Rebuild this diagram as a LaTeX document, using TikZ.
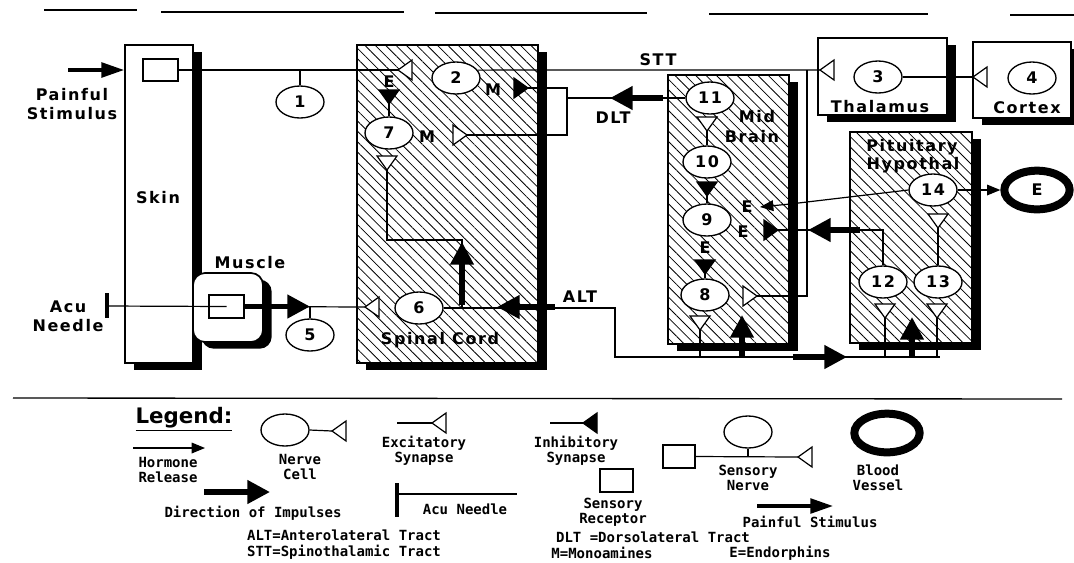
\documentclass[tikz,border=0pt]{standalone}
\usepackage{fontspec}
\setmainfont{DejaVu Sans}
\newfontfamily\labelfont{DejaVu Sans}[LetterSpace=10]
\newfontfamily\keyfont{DejaVu Sans Mono}
\usetikzlibrary{arrows.meta,shapes.geometric,shadows,patterns.meta,fit}

\tikzset{
  box/.style={draw, line width=1.3pt, fill=white, inner sep=0pt,
    general shadow={fill=black, shadow xshift=6.5pt, shadow yshift=-5pt}},
  hatched/.style={postaction={pattern={Lines[angle=-45,distance=5.5pt,line width=0.6pt]}}},
  receptor/.style={draw, line width=1pt, inner sep=0pt},
  cell/.style={draw, ellipse, fill=white, line width=1pt, inner sep=0pt,
    minimum width=36pt, minimum height=24pt, font=\labelfont\bfseries\fontsize{12}{12}\selectfont},
  vessel/.style={draw, ellipse, line width=6pt, inner sep=0pt,
    minimum width=49pt, minimum height=29pt, font=\labelfont\bfseries\fontsize{12}{12}\selectfont},
  lbl/.style={font=\labelfont\bfseries\fontsize{12}{14}\selectfont, align=center, inner sep=0pt},
  key/.style={font=\keyfont\bfseries\fontsize{10.5}{11.5}\selectfont, align=center, inner sep=0pt},
  nerve/.style={line width=0.9pt},
  impulse/.style={line width=4pt, -{Triangle[length=17pt,width=17pt]}},
  stimulus/.style={line width=2.6pt, -{Triangle[length=17pt,width=11pt]}},
  hormone/.style={line width=0.9pt, -{Triangle[length=10pt,width=8pt]}},
  needle/.style={line width=2.3pt},
  exc/.pic={\draw[line width=0.9pt, fill=white] (0,0) -- (14,-10) -- (14,10) -- cycle;},
  inh/.pic={\filldraw[line width=0.9pt] (0,0) -- (14,-10) -- (14,10) -- cycle;},
}

\begin{document}
\begin{tikzpicture}[x=0.75pt, y=-0.75pt]
\useasboundingbox (0,0) rectangle (1074,562);

% Top rule
\draw[line width=1.2pt] (44,10) -- (137,10);
\foreach \a/\b/\y in {161/404/12, 435/647/13, 709/928/14, 1010/1074/15} {
    \draw[line width=0.9pt] (\a,\y) -- (\b,\y);
}

% Boxes
\node[box, fit={(125,45) (193,363)}] (skin) {};
\node[box, rounded corners=9pt, fit={(193,273) (263,342)}] (muscle) {};
\node[box, hatched, fit={(357,45) (538,363)}] (cord) {};
\node[box, hatched, fit={(668,75) (789,344)}] (mid) {};
\node[box, fit={(818,38) (947,115)}] (thal) {};
\node[box, fit={(973,42) (1071,118)}] (ctx) {};
\node[box, hatched, fit={(850,132) (972,343)}] (pit) {};

\node[lbl] at (158,198) {Skin};
\node[lbl] at (250,263) {Muscle};
\node[lbl] at (440,340) {Spinal Cord};
\node[lbl] at (757,117) {Mid};
\node[lbl] at (752,137) {Brain};
\node[lbl] at (880,107) {Thalamus};
\node[lbl] at (1027,108) {Cortex};
\node[lbl] at (912,147) {Pituitary};
\node[lbl] at (913,165) {Hypothal};
\node[lbl] at (72,104) {Painful\\Stimulus};
\node[lbl] at (68,316) {Acu\\Needle};
\node[lbl] at (658,60) {STT};
\node[lbl] at (613,118) {DLT};
\node[lbl] at (580,297) {ALT};

% Receptors
\node[receptor, fit={(143,59) (178,81)}] (rs) {};
\node[receptor, fit={(209,295) (244,318)}] (rm) {};

% Nerve cells
\node[cell] (n1) at (300,102) {1};
\node[cell] (n2) at (456,78) {2};
\node[cell] (n3) at (878,77) {3};
\node[cell] (n4) at (1032,78) {4};
\node[cell] (n5) at (310,335) {5};
\node[cell] (n6) at (419,308) {6};
\node[cell] (n7) at (389,133) {7};
\node[cell] (n8) at (705,295) {8};
\node[cell] (n9) at (707,220) {9};
\node[cell] (n10) at (707,162) {10};
\node[cell] (n11) at (710,98) {11};
\node[cell] (n12) at (883,282) {12};
\node[cell] (n13) at (938,282) {13};
\node[cell] (n14) at (933,190) {14};
\node[vessel] (vessel) at (1037,190) {E};

% Synapse points
\coordinate (sIn) at (398,70);
\coordinate (sThal) at (820,70);
\coordinate (sCtx) at (973,77);
\coordinate (sttFork) at (807,70);
\coordinate (s8) at (757,296);
\coordinate (m2) at (528,88);
\coordinate (m7) at (467,135);
\coordinate (dltFork) at (567,98);
\coordinate (e7) at (389,104);
\coordinate (s7) at (387,170);
\coordinate (s6) at (365,307);
\coordinate (acu) at (107,306);
\coordinate (altEnd) at (940,357);
\coordinate (a8) at (700,330);
\coordinate (a12) at (885,318);
\coordinate (a13) at (937,318);
\coordinate (s10) at (707,131);
\coordinate (i9) at (707,196);
\coordinate (i8) at (705,274);
\coordinate (i9r) at (778,230);
\coordinate (s14) at (938,228);
\coordinate (h9) at (760,207);

% Skin input and STT
\draw[stimulus] (68,70) -- (skin.west |- rs);
\draw[nerve] (rs.east) -- (sIn);
\draw[nerve] (n1.north) -- (n1.north |- sIn);
\draw[nerve] (n2.20) -- (sThal);
\draw[nerve] (sttFork) |- (s8);
\draw[nerve] (n3.east) -- (sCtx);
\pic at (sIn) {exc};
\pic at (sThal) {exc};
\pic at (sCtx) {exc};
\pic[rotate=180] at (s8) {exc};

% DLT
\draw[nerve] (n11.west) -- (dltFork);
\draw[nerve] (m2) -| (dltFork) |- (m7);
\draw[impulse] (663,98) -- (610,98);
\pic[rotate=180] at (m2) {inh};
\pic[rotate=180] at (m7) {exc};
\draw[nerve] (n7.north) -- (e7);
\pic[rotate=90] at (e7) {inh};

% Muscle input and ALT
\draw[needle] (107,293) -- (107,318);
\draw[nerve] (acu) -- (rm.center);
\draw[nerve] (rm.east) -- (s6);
\draw[impulse] (rm.east) -- (n5.north |- rm.east);
\draw[nerve] (n5.north) -- (n5.north |- rm.east);
\pic at (s6) {exc};
\draw[nerve] (s7) |- (462,240) -- (462,307);
\draw[impulse] (462,305) -- (462,242);
\pic[rotate=90] at (s7) {exc};
\draw[nerve] (n6.east) -- (615,308) |- (altEnd);
\draw[impulse] (555,307) -- (497,307);
\draw[impulse] (793,357) -- (847,357);
\foreach \p in {a8, a12, a13} {
    \draw[nerve] (\p) -- (\p |- altEnd);
    \pic[rotate=90] at (\p) {exc};
}
\draw[impulse] (742,357) -- (742,315);
\draw[impulse] (912,357) -- (912,317);

% Mid brain
\draw[nerve] (s10) -- (n10.north);
\pic[rotate=90] at (s10) {exc};
\draw[nerve] (i9) -- (n9.north);
\pic[rotate=90] at (i9) {inh};
\draw[nerve] (i8) -- (n8.north);
\pic[rotate=90] at (i8) {inh};
\node[lbl] at (747,207) {E};
\node[lbl] at (743,232) {E};
\node[lbl] at (705,248) {E};
\node[lbl] at (389,82) {E};
\node[lbl] at (493,90) {M};
\node[lbl] at (427,137) {M};

% Pituitary
\draw[nerve] (i9r) -| (n12.north);
\draw[impulse] (860,230) -- (808,230);
\pic[rotate=180] at (i9r) {inh};
\draw[nerve] (s14) -- (n13.north);
\pic[rotate=90] at (s14) {exc};
\draw[hormone] (n14.west) -- (790,204) -- (h9);
\draw[hormone] (n14.east) -- (vessel.west);

% Legend
\draw[line width=1pt] (13,398) -- (1062,399);
\node[font=\bfseries\fontsize{16}{16}\selectfont] (legend) at (184,419) {\underline{Legend:}};

\draw[hormone] (133,448) -- (205,448);
\node[key] at (168,470) {Hormone\\Release};

\node[cell] (keyCell) at (285,430) {};
\coordinate (keyCellSyn) at (332,431);
\draw[nerve] (keyCell.east) -- (keyCellSyn);
\pic at (keyCellSyn) {exc};
\node[key] at (300,467) {Nerve\\Cell};

\coordinate (keyExcA) at (397,423);
\coordinate (keyExc) at (432,423);
\draw[nerve] (keyExcA) -- (keyExc);
\pic at (keyExc) {exc};
\node[key] at (424,451) {Excitatory\\Synapse};

\coordinate (keyInhA) at (550,423);
\coordinate (keyInh) at (583,423);
\draw[nerve] (keyInhA) -- (keyInh);
\pic at (keyInh) {inh};
\node[key] at (576,451) {Inhibitory\\Synapse};

\draw[impulse] (204,492) -- (270,492);
\node[key] at (253,513) {Direction of Impulses};

\draw[needle] (397,483) -- (397,517);
\draw[nerve] (397,494) -- (517,494);
\node[key] at (465,509) {Acu Needle};

\node[receptor, fit={(600,469) (633,492)}] (keyRec) {};
\node[key] at (613,512) {Sensory\\Receptor};

\node[receptor, fit={(663,445) (695,468)}] (keyNrvRec) {};
\node[cell] (keyNrvCell) at (748,432) {};
\coordinate (keyNrvSyn) at (798,457);
\draw[nerve] (keyNrvRec.east) -- (keyNrvSyn);
\draw[nerve] (keyNrvCell.south) -- (keyNrvCell.south |- keyNrvSyn);
\pic at (keyNrvSyn) {exc};
\node[key] at (748,478) {Sensory\\Nerve};

\node[vessel] (keyVessel) at (887,433) {};
\node[key] at (878,478) {Blood\\Vessel};

\draw[stimulus] (757,506) -- (833,506);
\node[key] at (810,522) {Painful Stimulus};

\node[key] at (344,535) {ALT=Anterolateral Tract};
\node[key] at (344,552) {STT=Spinothalamic Tract};
\node[key] at (653,537) {DLT =Dorsolateral Tract};
\node[key] at (602,553) {M=Monoamines};
\node[key] at (780,553) {E=Endorphins};

\end{tikzpicture}
\end{document}
